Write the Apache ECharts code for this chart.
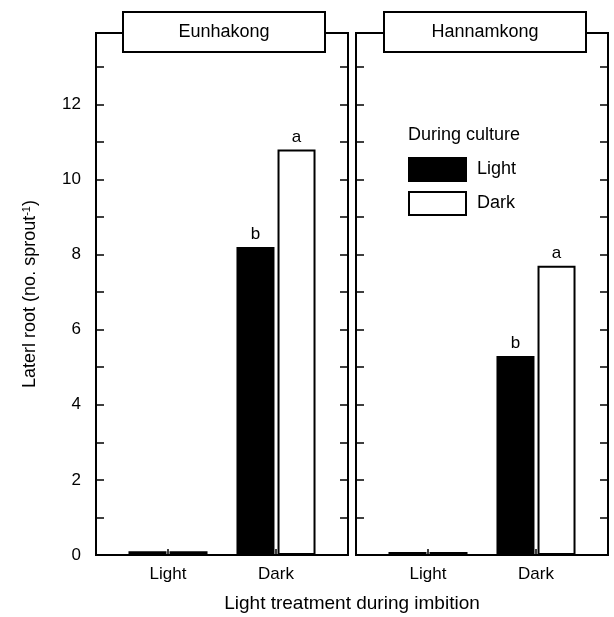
<!DOCTYPE html>
<html>
<head>
<meta charset="utf-8">
<script src="https://cdn.jsdelivr.net/npm/echarts@6/dist/echarts.min.js"></script>
<style>
    html, body { margin: 0; padding: 0; background: #fff; }
    #chart { width: 614px; height: 617px; }
</style>
</head>
<body>
<div id="chart"></div>
<script>
    "use strict";
    // light treatment during imbition
    var categories = ["Light", "Dark"];
    var cultivars = ["Eunhakong", "Hannamkong"];
    // during culture: Light (black) / Dark (white)
    var eunhakongLight = [0.1, 8.2];
    var eunhakongDark = [0.1, 10.8];
    var hannamkongLight = [0.08, 5.3];
    var hannamkongDark = [0.08, 7.7];
    var eunhakongLightLetters = ["", "b"];
    var eunhakongDarkLetters = ["", "a"];
    var hannamkongLightLetters = ["", "b"];
    var hannamkongDarkLetters = ["", "a"];

    var font = "'Liberation Sans', Arial, sans-serif";
    var chart = echarts.init(document.getElementById("chart"));

    // empty slots so the two groups sit where the original put them
    var slots = ["", "", categories[0], "", "", categories[1], "", ""];
    var slotIndex = [2, 5];
    var spread = function (values) {
        var out = slots.map(function () { return null; });
        slotIndex.forEach(function (s, i) { out[s] = values[i]; });
        return out;
    };
    var spreadText = function (values) {
        var out = slots.map(function () { return ""; });
        slotIndex.forEach(function (s, i) { out[s] = values[i]; });
        return out;
    };
    var isSlot = function (index) { return slotIndex.indexOf(index) > -1; };

    var grids = [
        {left: 96, top: 33, width: 252, height: 522},
        {left: 356, top: 33, width: 252, height: 522}
    ];
    grids.forEach(function (g) {
        g.show = true;
        g.borderColor = "#000";
        g.borderWidth = 2;
        g.backgroundColor = "#fff";
    });

    var xAxes = [0, 1].map(function (i) {
        return {
            type: "category",
            gridIndex: i,
            data: slots,
            boundaryGap: false,
            axisLine: {lineStyle: {color: "#000", width: 2}},
            axisTick: {show: true, inside: true, length: 6, interval: function (idx) { return isSlot(idx); }, lineStyle: {color: "#000", width: 1.5}},
            axisLabel: {interval: function (idx) { return isSlot(idx); }, color: "#000", fontSize: 17, fontFamily: font, margin: 11}
        };
    });

    var yAxes = [];
    [0, 1].forEach(function (i) {
        ["left", "right"].forEach(function (pos) {
            var axis = {
                type: "value",
                gridIndex: i,
                position: pos,
                min: 0,
                max: 13.9,
                interval: 1,
                splitLine: {show: false},
                axisLine: {show: true, lineStyle: {color: "#000", width: 2}},
                axisTick: {show: true, inside: true, length: 8, lineStyle: {color: "#000", width: 1.5}},
                axisLabel: {
                    show: i === 0 && pos === "left",
                    color: "#000", fontSize: 17, fontFamily: font, margin: 15,
                    formatter: function (v) { return v % 2 === 0 ? String(v) : ""; }
                }
            };
            if (i === 0 && pos === "left") {
                axis.name = "{t|Laterl root (no. sprout}{s|-1}{t|)}";
                axis.nameLocation = "middle";
                axis.nameRotate = 90;
                axis.nameGap = 56;
                axis.nameTextStyle = {
                    rich: {
                        t: {fontSize: 18, fontFamily: font, color: "#000"},
                        s: {fontSize: 11, fontFamily: font, color: "#000", verticalAlign: "top", padding: [0, 0, 8, 0]}
                    }
                };
            }
            yAxes.push(axis);
        });
    });

    var barSeries = function (name, grid, values, letters, fill) {
        var text = spreadText(letters);
        return {
            name: name,
            type: "bar",
            xAxisIndex: grid,
            yAxisIndex: grid * 2,
            data: spread(values),
            barWidth: 38,
            barGap: "8%",
            itemStyle: {color: fill, borderColor: "#000", borderWidth: 2},
            label: {
                show: true,
                position: "top",
                distance: 4,
                color: "#000",
                fontSize: 17,
                fontFamily: font,
                formatter: function (p) { return text[p.dataIndex]; }
            }
        };
    };

    var titleBox = function (cx, label) {
        return {
            type: "group",
            children: [
                {type: "rect", shape: {x: cx - 101, y: 12, width: 202, height: 40}, style: {fill: "#fff", stroke: "#000", lineWidth: 2}, z: 100},
                {type: "text", x: cx, y: 32, style: {text: label, fill: "#000", font: "18px " + font, textAlign: "center", textVerticalAlign: "middle"}, z: 101}
            ]
        };
    };

    chart.setOption({
        animation: false,
        backgroundColor: "#fff",
        grid: grids,
        xAxis: xAxes,
        yAxis: yAxes,
        legend: {
            data: ["Light", "Dark"],
            orient: "vertical",
            left: 403,
            top: 152,
            icon: "rect",
            itemWidth: 57,
            itemHeight: 23,
            itemGap: 9,
            textStyle: {color: "#000", fontSize: 18, fontFamily: font, padding: [0, 0, 0, 6]}
        },
        graphic: [
            titleBox(224, cultivars[0]),
            titleBox(485, cultivars[1]),
            {type: "text", x: 408, y: 135, style: {text: "During culture", fill: "#000", font: "18px " + font, textVerticalAlign: "middle"}, z: 100},
            {type: "text", x: 352, y: 604, style: {text: "Light treatment during imbition", fill: "#000", font: "19px " + font, textAlign: "center", textVerticalAlign: "middle"}, z: 100}
        ],
        series: [
            barSeries("Light", 0, eunhakongLight, eunhakongLightLetters, "#000"),
            barSeries("Dark", 0, eunhakongDark, eunhakongDarkLetters, "#fff"),
            barSeries("Light", 1, hannamkongLight, hannamkongLightLetters, "#000"),
            barSeries("Dark", 1, hannamkongDark, hannamkongDarkLetters, "#fff")
        ]
    });
</script>
</body>
</html>
